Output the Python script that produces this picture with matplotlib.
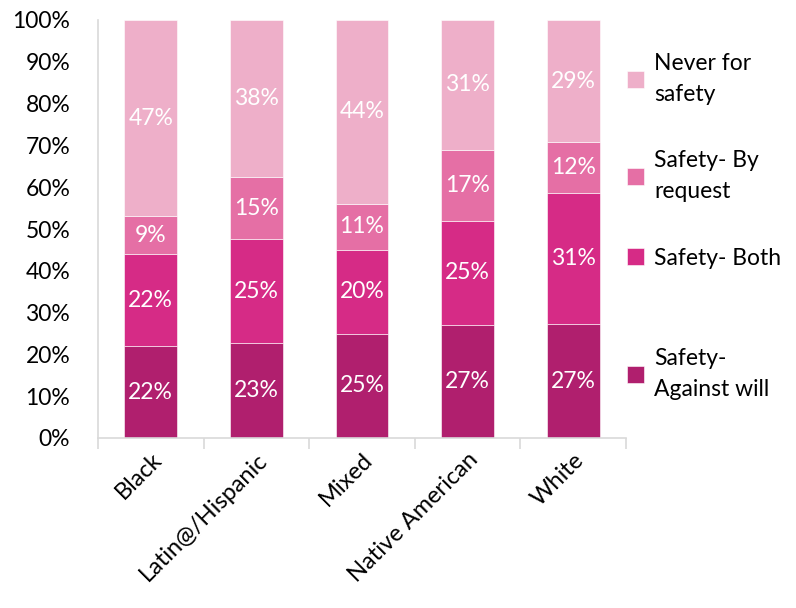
import matplotlib.pyplot as plt
import numpy as np

plt.rcParams['font.family'] = ['Lato', 'DejaVu Sans']

groups = ["Black", "Latin@/Hispanic", "Mixed", "Native American", "White"]
series = ["Safety-\nAgainst will", "Safety- Both", "Safety- By\nrequest", "Never for\nsafety"]
against_will = [22, 23, 25, 27, 27]
both = [22, 25, 20, 25, 31]
by_request = [9, 15, 11, 17, 12]
never = [47, 38, 44, 31, 29]
colors = ["#B01F6E", "#D62B86", "#E56FA5", "#EEAFC9"]

data = np.array([against_will, both, by_request, never], dtype=float)
share = data / data.sum(axis=0) * 100
fs = 16.5

fig = plt.figure(figsize=(7.96, 6.08), dpi=100)
ax = fig.add_axes([98 / 796, 1 - 438 / 608, 528 / 796, 418 / 608])

x = np.arange(len(groups))
bottom = np.zeros(len(groups))
handles = []
for vals, shr, col, name in zip(data, share, colors, series):
    bars = ax.bar(x, shr, 0.5, bottom=bottom, color=col, label=name,
                  edgecolor='white', linewidth=0.4)
    handles.append(bars)
    for xi, b, s, v in zip(x, bottom, shr, vals):
        ax.text(xi, b + s / 2, "%d%%" % v, ha='center', va='center',
                color='white', fontsize=fs)
    bottom += shr

ax.set_xlim(-0.5, len(groups) - 0.5)
ax.set_ylim(0, 100)
ax.set_yticks(np.arange(0, 101, 10))
ax.set_yticklabels(["%d%%" % v for v in range(0, 101, 10)], fontsize=fs)
ax.tick_params(axis='y', length=0, pad=20)
ax.set_xticks(np.arange(-0.5, len(groups), 1.0), minor=False)
ax.set_xticklabels([])
ax.tick_params(axis='x', length=8, color='#D9D9D9', width=1.2)
ax.set_xticks(x, minor=True)
ax.set_xticklabels(groups, minor=True, rotation=45, ha='right',
                   rotation_mode='anchor', fontsize=17)
ax.tick_params(axis='x', which='minor', length=0, pad=8)
for s in ['top', 'right']:
    ax.spines[s].set_visible(False)
for s in ['left', 'bottom']:
    ax.spines[s].set_color('#D9D9D9')
    ax.spines[s].set_linewidth(1.2)

# legend entries, placed one by one like the original
leg_y = [374, 258, 176, 79]
for h, yy in zip(handles, leg_y):
    lg = fig.legend([h], [h.get_label()], loc='center left',
                    bbox_to_anchor=(606 / 796, 1 - yy / 608), frameon=False,
                    fontsize=fs, handlelength=0.75, handleheight=0.75,
                    handletextpad=0.45)
    for t in lg.get_texts():
        t.set_linespacing(1.55)

fig.savefig("out.png", dpi=100)
